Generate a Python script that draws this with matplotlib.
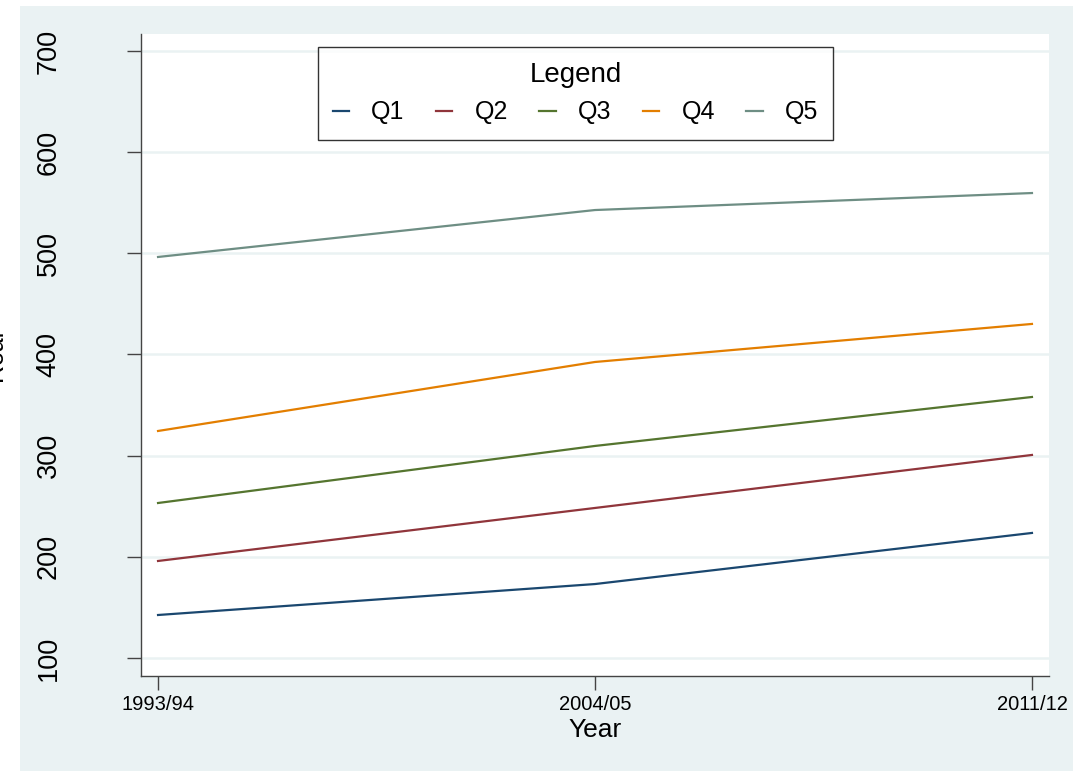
import matplotlib.pyplot as plt
from matplotlib.patches import Rectangle

# Data
years = ['1993/94', '2004/05', '2011/12']
q1 = [142.5, 173.1, 223.6]
q2 = [195.9, 248.3, 300.7]
q3 = [253.2, 309.6, 358.0]
q4 = [324.4, 392.6, 430.2]
q5 = [496.4, 542.8, 559.6]
series = [('Q1', q1), ('Q2', q2), ('Q3', q3), ('Q4', q4), ('Q5', q5)]
colors = ['#1a476f', '#90353b', '#55752f', '#e37e00', '#6e8e84']
yticks = [100, 200, 300, 400, 500, 600, 700]

plt.rcParams['font.family'] = ['Liberation Sans', 'DejaVu Sans']
bg = '#eaf2f3'

fig = plt.figure(figsize=(10.73, 7.71), dpi=100, facecolor='white')
# Stata-like outer region (starts a bit in from the left/top)
fig.patches.append(Rectangle((20 / 1073, 0), 1 - 20 / 1073, 1 - 6 / 771,
                             transform=fig.transFigure, facecolor=bg,
                             edgecolor='none', zorder=-10))

ax = fig.add_axes([141 / 1073, 1 - 676 / 771, (1049 - 141) / 1073, (676 - 34) / 771])
ax.set_facecolor('white')

x = range(len(years))
for (name, vals), c in zip(series, colors):
    ax.plot(x, vals, color=c, linewidth=1.6, label=name)

ax.set_xlim(-0.039, 2.039)
ax.set_ylim(82.2, 716.8)
ax.set_xticks(list(x))
ax.set_xticklabels(years, fontsize=14.5)
ax.set_yticks(yticks)
ax.set_yticklabels([str(v) for v in yticks], fontsize=19.5, rotation=90, va='center')
ax.grid(axis='y', color=bg, linewidth=1.8)
ax.set_axisbelow(True)

for side in ['top', 'right']:
    ax.spines[side].set_visible(False)
for side in ['left', 'bottom']:
    ax.spines[side].set_color('#444444')
    ax.spines[side].set_linewidth(1.0)
ax.tick_params(axis='both', direction='out', length=10, width=1.0, color='#444444')
ax.tick_params(axis='y', pad=47)
ax.tick_params(axis='x', pad=4)

ax.set_xlabel('Year', fontsize=19, labelpad=2.5)

# y label that is clipped at the left edge
fig.text(-5 / 1073, 1 - 355 / 771, 'Real', rotation=90, fontsize=18,
         ha='center', va='center')

leg = fig.legend(loc='upper center', bbox_to_anchor=(575.5 / 1073, 1 - 47 / 771),
                 ncol=5, fontsize=18, title='Legend', title_fontsize=20,
                 handlelength=0.65, columnspacing=1.25, handletextpad=0.9,
                 frameon=True, fancybox=False, borderpad=0.6,
                 borderaxespad=0)
leg.get_frame().set_edgecolor('black')
leg.get_frame().set_linewidth(1.0)

fig.savefig('out.png', dpi=100, facecolor=fig.get_facecolor())
